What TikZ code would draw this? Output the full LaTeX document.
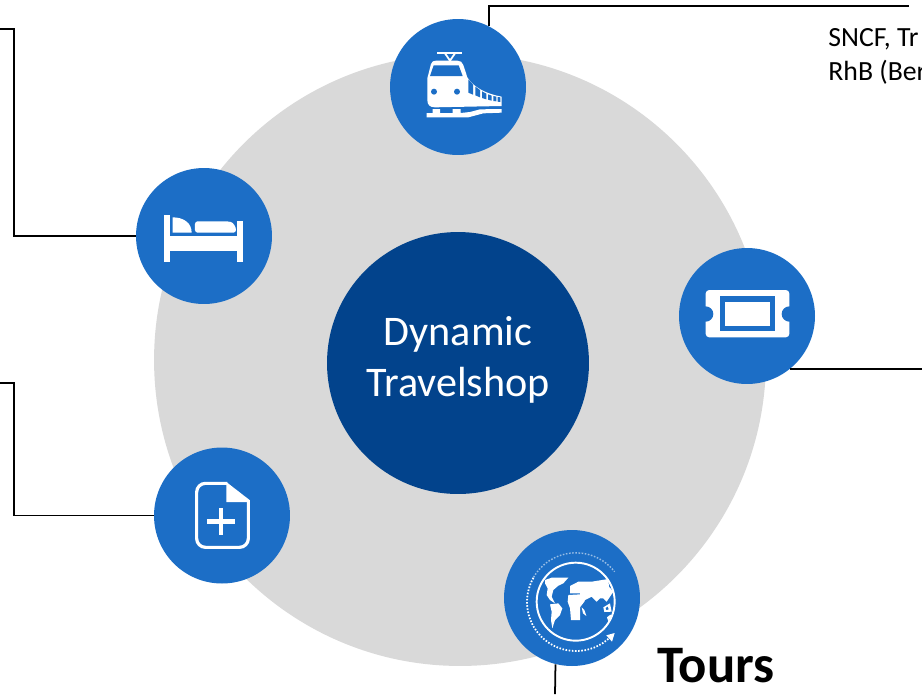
\documentclass[tikz,border=0pt]{standalone}
\usepackage{fontspec}
\setmainfont{Carlito}
\definecolor{discgray}{HTML}{D9D9D9}
\definecolor{hubblue}{HTML}{02438C}
\definecolor{iconblue}{HTML}{1C6EC6}
\tikzset{
  bigdisc/.style={circle, fill=discgray, minimum size=12.24cm, inner sep=0pt},
  hubnode/.style={circle, fill=hubblue, minimum size=5.24cm, inner sep=0pt, text=white, align=center, text depth=7.5pt, font=\fontsize{24}{29}\selectfont},
  iconnode/.style={circle, fill=iconblue, minimum size=2.72cm, inner sep=0pt},
  leadline/.style={draw=black, line width=1pt},
  zoomed/.style={x=0.006667cm, y=-0.006667cm},
  iconline/.style={draw=white, line width=1.8pt, line join=round}
}
\begin{document}
\begin{tikzpicture}[x=0.02cm, y=-0.02cm]
  \clip (0,0) rectangle (922,694);
  \fill[white] (0,0) rectangle (922,694);
  % free ends of the lead lines
  \coordinate (trainend) at (909, 6);
  \coordinate (bedend) at (0, 29);
  \coordinate (docend) at (0, 383);
  \coordinate (ticketend) at (922, 369);
  \coordinate (globeend) at (555, 694);
  \coordinate (bedbend) at (14, 236);
  \coordinate (docbend) at (14, 515.5);

  \node[bigdisc] (disc) at (460, 360) [] {};

  \node[iconnode] (train) at (458, 87) [] {};
  \node[iconnode] (bed) at (204, 236) [] {};
  \node[iconnode] (ticket) at (747, 316) [] {};
  \node[iconnode] (doc) at (222, 515.5) [] {};
  \node[iconnode] (globe) at (572, 598) [] {};
  \node[hubnode] (hub) at (458, 363) [] {Dynamic\\Travelshop};

  % lead lines
  \draw[leadline] (train.63) |- (trainend);
  \draw[leadline] (bed.west) -- (bedbend) |- (bedend);
  \draw[leadline] (doc.west) -- (docbend) |- (docend);
  \foreach \source/\dest in {ticket.-51/ticketend, globe.-104/globeend}
    \draw[leadline] (\source) -- (\dest);

  % train icon
  \begin{scope}[shift={(380,0)}, zoomed]
    \fill[white] (172,155) rectangle (245,161);
    \draw[white, line width=1pt] (195,160) -- (210,182) -- (225,160);
    \fill[white] (142,235) -- (153,192) .. controls (156,184) and (160,182) .. (168,182) -- (232,182)
      .. controls (242,182) and (246,186) .. (250,195) -- (262,232) .. controls (280,262) and (320,282) .. (365,290)
      -- (365,318) -- (165,322) .. controls (150,322) and (142,315) .. (142,300) -- cycle;
    \fill[iconblue] (150,228) -- (161,196) -- (236,196) -- (248,228) -- cycle;
    \fill[iconblue] (162,275) circle [radius=9];
    \fill[iconblue] (231,275) circle [radius=9];
    \fill[iconblue] (265,238) -- (279,254) -- (279,284) -- (265,278) -- cycle;
    \fill[iconblue] (286,260) -- (300,270) -- (300,292) -- (286,286) -- cycle;
    \fill[iconblue] (306,274) -- (319,281) -- (319,298) -- (306,294) -- cycle;
    \fill[iconblue] (324,283) -- (335,287) -- (335,302) -- (324,299) -- cycle;
    \fill[iconblue] (340,288) -- (349,290) -- (349,304) -- (340,303) -- cycle;
    \fill[iconblue] (353,291) -- (361,292) -- (361,306) -- (353,305) -- cycle;
    \fill[white] (140,339) -- (158,339) -- (158,327) -- (180,327) -- (180,339) -- (218,339) -- (218,327) -- (242,327)
      -- (242,339) -- (270,336) -- (300,328) -- (365,327) -- (365,338) -- (310,340) -- (265,352) -- (140,352) -- cycle;
  \end{scope}

  % bed icon
  \begin{scope}[shift={(130,160)}, zoomed]
    \fill[white] (101,165) rectangle (119,306);
    \fill[white] (322,184) rectangle (340,306);
    \fill[white] (101,228) rectangle (340,272);
    \fill[white] (128,172) .. controls (160,172) and (185,188) .. (185,218) -- (128,218) -- cycle;
    \fill[white, rounded corners=1.5pt] (195,218) -- (195,184) -- (295,184) .. controls (310,188) and (318,200) .. (318,218) -- cycle;
  \end{scope}

  % ticket icon
  \begin{scope}[shift={(670,240)}, zoomed]
    \fill[white, rounded corners=2pt] (107,150) rectangle (358,292);
    \fill[iconblue] (107,222) circle [radius=23];
    \fill[iconblue] (358,222) circle [radius=23];
    \fill[iconblue] (150,168) rectangle (315,272);
    \fill[white] (166,185) rectangle (300,257);
  \end{scope}

  % document icon
  \begin{scope}[shift={(150,440)}, zoomed]
    \draw[iconline, rounded corners=5pt] (232,130) -- (140,130) -- (140,322) -- (295,322) -- (295,185);
    \fill[white] (229,126) -- (300,181) -- (300,186) -- (229,186) -- cycle;
    \draw[iconline, line width=2.6pt] (172,244) -- (255,244);
    \draw[iconline, line width=2.6pt] (213,204) -- (213,286);
  \end{scope}

  % globe icon
  \begin{scope}[shift={(495,530)}, zoomed]
    \draw[white, line width=1.1pt] (242,215) circle [radius=117];
    \draw[white, line width=1pt, dash pattern=on 0.9pt off 0.9pt] (347,320) arc [start angle=45, end angle=210, radius=147];
    \draw[white, opacity=0.55, line width=0.8pt, dash pattern=on 0.9pt off 0.9pt] (115.7,142) arc [start angle=210, end angle=322, radius=147];
    \fill[white] (334,316) -- (359,309) -- (351,335) -- cycle;
    % north america, south america
    \fill[white] (150,150) -- (170,143) -- (220,143) -- (205,160) -- (190,167) -- (175,180) -- (170,200) -- (180,220)
      -- (165,210) -- (155,195) -- (158,175) -- (150,160) -- cycle;
    \fill[white] (165,223) -- (190,220) -- (202,235) -- (195,255) -- (180,270) -- (172,295) -- (168,270) -- (170,245) -- cycle;
    % eurasia with africa
    \fill[white] (225,168) -- (250,155) -- (290,155) -- (340,147) -- (342,170) -- (355,185) -- (345,200) -- (335,215)
      -- (325,205) -- (315,205) -- (305,215) -- (290,200) -- (270,210) -- (268,215) -- (255,232) -- (255,270) -- (228,270)
      -- (225,235) -- (218,215) -- (220,195) -- (255,193) -- (255,190) -- (225,190) -- cycle;
    % islands
    \fill[white] (260,232) -- (268,240) -- (274,258) -- (264,250) -- cycle;
    \fill[white] (325,232) -- (345,220) -- (350,245) -- (328,246) -- cycle;
    \fill[iconblue] (332,234) -- (338,230) -- (341,238) -- (334,240) -- cycle;
    \fill[white] (336,262) -- (346,254) -- (350,258) -- (340,274) -- cycle;
  \end{scope}

  % texts
  \node[anchor=north west, inner sep=0pt, align=left, font=\fontsize{15.8}{19}\selectfont] (railtext) at (828, 28.5) [] {SNCF, Tr\\RhB (Ber};
  \node[anchor=west, inner sep=0pt, font=\fontsize{30}{36}\bfseries\selectfont] (tourstext) at (657, 666) [] {Tours};
\end{tikzpicture}
\end{document}
